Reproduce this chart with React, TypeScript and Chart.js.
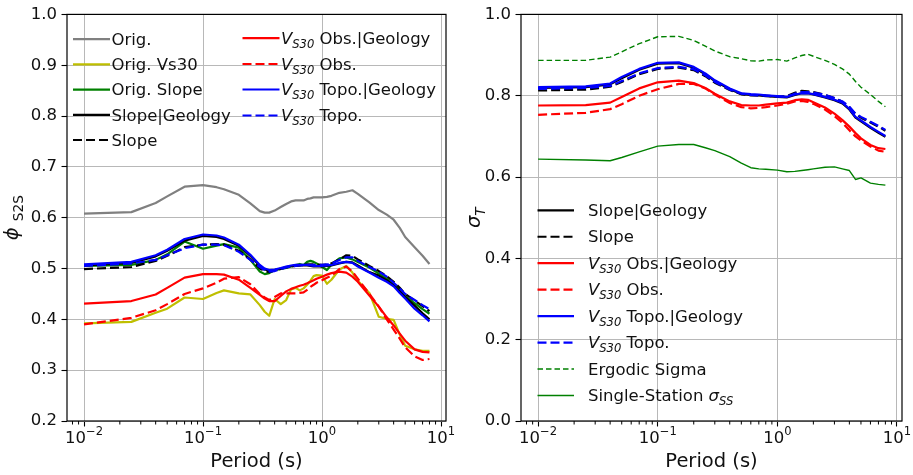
import React, { useEffect, useRef } from "react";
import { Chart, registerables } from "chart.js";

Chart.register(...registerables);

const FONT = "'DejaVu Sans', 'Liberation Sans', sans-serif";

// ---------- Left panel: phi_S2S ----------
const periodsPhi = [
  0.01, 0.025, 0.04, 0.05, 0.07,
  0.1, 0.13, 0.15, 0.2, 0.25,
  0.3, 0.33, 0.36, 0.4, 0.45,
  0.5, 0.55, 0.6, 0.65, 0.7,
  0.75, 0.8, 0.85, 0.9, 1.0,
  1.1, 1.2, 1.4, 1.6, 1.8,
  2.0, 2.5, 3.0, 3.5, 4.0,
  4.5, 5.0, 6.0, 7.0, 8.0,
];
const phiOrig = [
  0.608, 0.611, 0.629, 0.642, 0.661,
  0.664, 0.660, 0.656, 0.645, 0.628,
  0.613, 0.610, 0.610, 0.614, 0.621,
  0.627, 0.632, 0.634, 0.634, 0.634,
  0.637, 0.638, 0.640, 0.640, 0.640,
  0.641, 0.643, 0.649, 0.651, 0.654,
  0.647, 0.630, 0.615, 0.606, 0.596,
  0.580, 0.562, 0.542, 0.525, 0.509,
];
const phiOrigVs30 = [
  0.392, 0.395, 0.413, 0.421, 0.443,
  0.440, 0.452, 0.457, 0.451, 0.449,
  0.428, 0.415, 0.407, 0.440, 0.430,
  0.438, 0.459, 0.462, 0.457, 0.461,
  0.468, 0.476, 0.485, 0.487, 0.486,
  0.470, 0.478, 0.498, 0.505, 0.492,
  0.476, 0.452, 0.405, 0.401, 0.399,
  0.370, 0.348, 0.341, 0.338, 0.338,
];
const phiOrigSlope = [
  0.505, 0.507, 0.517, 0.528, 0.553,
  0.539, 0.545, 0.548, 0.541, 0.517,
  0.494, 0.489, 0.491, 0.497, 0.499,
  0.501, 0.504, 0.507, 0.509, 0.507,
  0.513, 0.515, 0.513, 0.510, 0.503,
  0.497, 0.508, 0.520, 0.522, 0.518,
  0.513, 0.502, 0.490, 0.480, 0.470,
  0.458, 0.445, 0.432, 0.420, 0.411,
];
const phiSlopeGeo = [
  0.506, 0.511, 0.524, 0.535, 0.555,
  0.564, 0.562, 0.558, 0.545, 0.525,
  0.505, 0.498, 0.496, 0.497, 0.500,
  0.503, 0.505, 0.506, 0.506, 0.506,
  0.506, 0.505, 0.504, 0.504, 0.504,
  0.505, 0.506, 0.510, 0.513, 0.512,
  0.506, 0.493, 0.486, 0.477, 0.467,
  0.455, 0.444, 0.427, 0.412, 0.400,
];
const phiSlope = [
  0.499, 0.503, 0.515, 0.525, 0.542,
  0.547, 0.548, 0.547, 0.535, 0.518,
  0.500, 0.495, 0.493, 0.496, 0.499,
  0.502, 0.504, 0.505, 0.506, 0.507,
  0.508, 0.508, 0.508, 0.508, 0.507,
  0.508, 0.510, 0.518, 0.526, 0.525,
  0.518, 0.505, 0.495, 0.485, 0.474,
  0.462, 0.450, 0.437, 0.426, 0.416,
];
const phiObsGeo = [
  0.431, 0.436, 0.449, 0.462, 0.482,
  0.489, 0.489, 0.488, 0.478, 0.462,
  0.448, 0.441, 0.436, 0.436, 0.446,
  0.455, 0.460, 0.463, 0.466, 0.468,
  0.471, 0.474, 0.477, 0.480, 0.484,
  0.488, 0.491, 0.494, 0.492, 0.484,
  0.474, 0.447, 0.425, 0.404, 0.388,
  0.372, 0.358, 0.341, 0.336, 0.335,
];
const phiObs = [
  0.390, 0.403, 0.418, 0.430, 0.450,
  0.461, 0.472, 0.480, 0.483, 0.469,
  0.450, 0.443, 0.438, 0.444, 0.451,
  0.451, 0.451, 0.451, 0.452, 0.453,
  0.458, 0.464, 0.468, 0.472, 0.477,
  0.482, 0.486, 0.499, 0.504, 0.494,
  0.480, 0.450, 0.425, 0.400, 0.380,
  0.362, 0.345, 0.327, 0.320, 0.322,
];
const phiTopoGeo = [
  0.508, 0.513, 0.526, 0.537, 0.558,
  0.567, 0.565, 0.561, 0.547, 0.527,
  0.507, 0.500, 0.497, 0.498, 0.501,
  0.504, 0.506, 0.507, 0.507, 0.507,
  0.507, 0.506, 0.505, 0.505, 0.505,
  0.506, 0.507, 0.511, 0.513, 0.511,
  0.504, 0.492, 0.482, 0.474, 0.465,
  0.452, 0.441, 0.421, 0.408, 0.396,
];
const phiTopo = [
  0.505, 0.510, 0.517, 0.526, 0.540,
  0.547, 0.547, 0.546, 0.533, 0.517,
  0.503, 0.497, 0.494, 0.495, 0.499,
  0.502, 0.504, 0.505, 0.506, 0.506,
  0.507, 0.507, 0.507, 0.507, 0.507,
  0.508, 0.510, 0.517, 0.522, 0.522,
  0.515, 0.503, 0.494, 0.484, 0.472,
  0.461, 0.450, 0.438, 0.428, 0.420,
];

// ---------- Right panel: sigma_T ----------
const periodsSig = [
  0.01, 0.025, 0.04, 0.05, 0.07,
  0.1, 0.15, 0.2, 0.25, 0.3,
  0.4, 0.5, 0.6, 0.7, 0.8,
  1.0, 1.2, 1.4, 1.6, 1.8,
  2.0, 2.5, 3.0, 3.5, 4.0,
  4.5, 5.0, 6.0, 7.0, 8.0,
];
const sigSlopeGeo = [
  0.819, 0.821, 0.828, 0.843, 0.864,
  0.879, 0.880, 0.869, 0.853, 0.836,
  0.816, 0.804, 0.802, 0.801, 0.799,
  0.797, 0.796, 0.802, 0.806, 0.806,
  0.803, 0.796, 0.789, 0.781, 0.766,
  0.746, 0.737, 0.721, 0.709, 0.699,
];
const sigSlope = [
  0.813, 0.815, 0.822, 0.834, 0.853,
  0.866, 0.869, 0.863, 0.848, 0.832,
  0.814, 0.804, 0.801, 0.801, 0.800,
  0.798, 0.799, 0.807, 0.812, 0.811,
  0.809, 0.802, 0.794, 0.785, 0.772,
  0.755, 0.746, 0.734, 0.724, 0.714,
];
const sigObsGeo = [
  0.776, 0.777, 0.783, 0.797, 0.818,
  0.833, 0.837, 0.831, 0.819, 0.805,
  0.786, 0.777, 0.776, 0.776, 0.778,
  0.781, 0.783, 0.789, 0.791, 0.790,
  0.784, 0.771, 0.756, 0.740, 0.724,
  0.708, 0.695, 0.679, 0.671, 0.669,
];
const sigObs = [
  0.753, 0.758, 0.767, 0.779, 0.800,
  0.816, 0.829, 0.829, 0.818, 0.803,
  0.782, 0.772, 0.769, 0.770, 0.772,
  0.776, 0.780, 0.786, 0.787, 0.785,
  0.780, 0.766, 0.750, 0.733, 0.715,
  0.700, 0.690, 0.675, 0.665, 0.662,
];
const sigTopoGeo = [
  0.821, 0.823, 0.830, 0.846, 0.866,
  0.881, 0.882, 0.871, 0.855, 0.838,
  0.818, 0.806, 0.804, 0.803, 0.801,
  0.799, 0.797, 0.803, 0.806, 0.806,
  0.804, 0.797, 0.790, 0.783, 0.768,
  0.748, 0.739, 0.723, 0.711, 0.701,
];
const sigTopo = [
  0.817, 0.819, 0.824, 0.836, 0.855,
  0.868, 0.871, 0.865, 0.850, 0.834,
  0.815, 0.805, 0.802, 0.801, 0.800,
  0.798, 0.798, 0.805, 0.809, 0.809,
  0.808, 0.802, 0.794, 0.786, 0.773,
  0.756, 0.748, 0.736, 0.726, 0.716,
];
const sigErgodic = [
  0.887, 0.887, 0.895, 0.908, 0.928,
  0.945, 0.946, 0.936, 0.922, 0.910,
  0.896, 0.891, 0.886, 0.885, 0.888,
  0.889, 0.885, 0.893, 0.899, 0.902,
  0.897, 0.887, 0.877, 0.866, 0.853,
  0.835, 0.821, 0.803, 0.786, 0.773,
];
const sigSingleStation = [
  0.644, 0.642, 0.640, 0.648, 0.662,
  0.676, 0.680, 0.680, 0.672, 0.665,
  0.650, 0.634, 0.623, 0.620, 0.619,
  0.617, 0.613, 0.614, 0.616, 0.618,
  0.620, 0.624, 0.625, 0.620, 0.616,
  0.594, 0.598, 0.585, 0.582, 0.580,
];

const decadeTicks = [0.01, 0.1, 1, 10];
const phiTicks = [0.2, 0.3, 0.4, 0.5, 0.6, 0.7, 0.8, 0.9, 1.0];
const sigTicks = [0.0, 0.2, 0.4, 0.6, 0.8, 1.0];

// ---------- helpers ----------
type Seg = { t: string; it?: boolean; sub?: boolean; sup?: boolean };

const segFont = (s: Seg, size: number) =>
  `${s.it ? "italic " : ""}${s.sub || s.sup ? size * 0.7 : size}px ${FONT}`;

function richWidth(ctx: CanvasRenderingContext2D, segs: Seg[], size: number) {
  let w = 0;
  for (const s of segs) {
    ctx.font = segFont(s, size);
    w += ctx.measureText(s.t).width;
  }
  return w;
}
function drawRich(ctx: CanvasRenderingContext2D, segs: Seg[], x: number, y: number, size: number) {
  let cx = x;
  for (const s of segs) {
    ctx.font = segFont(s, size);
    const dy = s.sub ? size * 0.24 : s.sup ? -size * 0.45 : 0;
    ctx.fillText(s.t, cx, y + dy);
    cx += ctx.measureText(s.t).width;
  }
}

const VS30: Seg[] = [{ t: "V", it: true }, { t: "S30", it: true, sub: true }];

type LegItem = { label: Seg[]; color: string; width: number; dash: number[] };
type LegCol = { x1: number; x2: number; tx: number; rows: number[]; items: LegItem[] };

const C = { gray: "#808080", yel: "#bfbf00", grn: "#008000", k: "#000000", r: "#ff0000", b: "#0000ff" };
const DASH = [9, 4];
const TDASH = [5.5, 3];
const LW = 2.2;

function ds(label: string, xs: number[], ys: number[], color: string, width: number, dash: number[], order: number) {
  return {
    label,
    data: xs.map((x, i) => ({ x, y: ys[i] })),
    borderColor: color,
    backgroundColor: color,
    borderWidth: width,
    borderDash: dash,
    borderJoinStyle: "round" as const,
    borderCapStyle: "butt" as const,
    pointRadius: 0,
    fill: false,
    tension: 0,
    order,
  };
}

const decoPlugin = {
  id: "deco",
  afterDraw(chart: any, _args: any, opts: any) {
    const ctx: CanvasRenderingContext2D = chart.ctx;
    const a = chart.chartArea;
    const xs = chart.scales.x;
    ctx.save();
    // minor ticks
    ctx.strokeStyle = "#000";
    ctx.lineWidth = 1;
    for (let d = -3; d <= 1; d++) {
      for (let k = 2; k <= 9; k++) {
        const v = k * Math.pow(10, d);
        if (v < xs.min || v > xs.max) continue;
        const px = xs.getPixelForValue(v);
        ctx.beginPath();
        ctx.moveTo(px, a.bottom);
        ctx.lineTo(px, a.bottom + 3.5);
        ctx.stroke();
      }
    }
    // frame
    ctx.lineWidth = 1.2;
    ctx.strokeRect(a.left, a.top, a.right - a.left, a.bottom - a.top);
    // x tick labels
    ctx.fillStyle = "#111";
    ctx.textBaseline = "alphabetic";
    for (const v of decadeTicks) {
      const e = Math.round(Math.log10(v));
      const segs: Seg[] = [{ t: "10" }, { t: e < 0 ? "\u2212" + Math.abs(e) : String(e), sup: true }];
      const w = richWidth(ctx, segs, 16.5);
      const px = xs.getPixelForValue(v);
      drawRich(ctx, segs, px - w / 2, a.bottom + 21.7, 16.5);
    }
    // x title
    const xt: Seg[] = [{ t: "Period (s)" }];
    const xw = richWidth(ctx, xt, 19.5);
    drawRich(ctx, xt, (a.left + a.right) / 2 - xw / 2, 466.5, 19.5);
    // y title
    ctx.save();
    ctx.translate(opts.yTitleX, (a.top + a.bottom) / 2);
    ctx.rotate(-Math.PI / 2);
    const yw = richWidth(ctx, opts.yTitle, 19.5);
    drawRich(ctx, opts.yTitle, -yw / 2, 0, 19.5);
    ctx.restore();
    // legend
    for (const col of opts.legend as LegCol[]) {
      col.items.forEach((it, i) => {
        const y = col.rows[i];
        ctx.save();
        ctx.strokeStyle = it.color;
        ctx.lineWidth = it.width;
        ctx.setLineDash(it.dash);
        ctx.lineCap = "butt";
        ctx.beginPath();
        ctx.moveTo(col.x1, y);
        ctx.lineTo(col.x2, y);
        ctx.stroke();
        ctx.restore();
        ctx.fillStyle = "#111";
        drawRich(ctx, it.label, col.tx, y + 5.7, 16.5);
      });
    }
    ctx.restore();
  },
};

function makeConfig(p: {
  datasets: any[];
  yMin: number;
  yMax: number;
  yTicks: number[];
  yWidth: number;
  padRight: number;
  yTitle: Seg[];
  yTitleX: number;
  legend: LegCol[];
}) {
  const gridBase = {
    color: "#b8b8b8",
    lineWidth: 1,
    drawTicks: true,
    tickLength: 5.5,
    tickColor: "#000",
    tickWidth: 1.1,
  };
  return {
    type: "line" as const,
    data: { datasets: p.datasets },
    plugins: [decoPlugin],
    options: {
      responsive: false,
      animation: false as const,
      events: [],
      layout: { padding: { left: 0, right: p.padRight, top: 14, bottom: 0 } },
      plugins: {
        legend: { display: false },
        tooltip: { enabled: false },
        deco: { yTitle: p.yTitle, yTitleX: p.yTitleX, legend: p.legend },
      },
      scales: {
        x: {
          type: "logarithmic" as const,
          bounds: "data" as const,
          min: Math.pow(10, -2.143),
          max: Math.pow(10, 1.042),
          afterBuildTicks: (s: any) => {
            s.ticks = decadeTicks.map((v) => ({ value: v }));
          },
          afterFit: (s: any) => {
            s.height = 54;
          },
          ticks: { display: false },
          grid: gridBase,
          border: { display: false },
        },
        y: {
          type: "linear" as const,
          min: p.yMin,
          max: p.yMax,
          afterBuildTicks: (s: any) => {
            s.ticks = p.yTicks.map((v) => ({ value: v }));
          },
          afterFit: (s: any) => {
            s.width = p.yWidth;
          },
          ticks: {
            callback: (v: any) => Number(v).toFixed(1),
            font: { family: FONT, size: 16.5 },
            color: "#111",
            padding: 4.5,
          },
          grid: gridBase,
          border: { display: false },
        },
      },
    },
  };
}

function leftConfig() {
  const defs: [string, number[], string, number, number[]][] = [
    ["Orig.", phiOrig, C.gray, LW, []],
    ["Orig. Vs30", phiOrigVs30, C.yel, LW, []],
    ["Orig. Slope", phiOrigSlope, C.grn, LW, []],
    ["Slope|Geology", phiSlopeGeo, C.k, LW, []],
    ["Slope", phiSlope, C.k, LW, DASH],
    ["VS30 Obs.|Geology", phiObsGeo, C.r, LW, []],
    ["VS30 Obs.", phiObs, C.r, LW, DASH],
    ["VS30 Topo.|Geology", phiTopoGeo, C.b, LW, []],
    ["VS30 Topo.", phiTopo, C.b, LW, DASH],
  ];
  const n = defs.length;
  const datasets = defs.map((d, i) => ds(d[0], periodsPhi, d[1], d[2], d[3], d[4], n - i));
  const item = (label: Seg[], i: number): LegItem => ({ label, color: defs[i][2], width: defs[i][3], dash: defs[i][4] });
  const legend: LegCol[] = [
    {
      x1: 73, x2: 110, tx: 111.5,
      rows: [39.2, 64.4, 89.6, 114.8, 140],
      items: [
        item([{ t: "Orig." }], 0),
        item([{ t: "Orig. Vs30" }], 1),
        item([{ t: "Orig. Slope" }], 2),
        item([{ t: "Slope|Geology" }], 3),
        item([{ t: "Slope" }], 4),
      ],
    },
    {
      x1: 242.5, x2: 279.5, tx: 281,
      rows: [38.2, 64, 89.5, 115.5],
      items: [
        item([...VS30, { t: " Obs.|Geology" }], 5),
        item([...VS30, { t: " Obs." }], 6),
        item([...VS30, { t: " Topo.|Geology" }], 7),
        item([...VS30, { t: " Topo." }], 8),
      ],
    },
  ];
  return makeConfig({
    datasets,
    yMin: 0.2,
    yMax: 1.0,
    yTicks: phiTicks,
    yWidth: 67,
    padRight: 14,
    yTitle: [{ t: "\u03D5", it: true }, { t: " " }, { t: "S2S", sub: true }],
    yTitleX: 18,
    legend,
  });
}

function rightConfig() {
  const defs: [string, number[], string, number, number[], Seg[]][] = [
    ["Slope|Geology", sigSlopeGeo, C.k, LW, [], [{ t: "Slope|Geology" }]],
    ["Slope", sigSlope, C.k, LW, DASH, [{ t: "Slope" }]],
    ["VS30 Obs.|Geology", sigObsGeo, C.r, LW, [], [...VS30, { t: " Obs.|Geology" }]],
    ["VS30 Obs.", sigObs, C.r, LW, DASH, [...VS30, { t: " Obs." }]],
    ["VS30 Topo.|Geology", sigTopoGeo, C.b, LW, [], [...VS30, { t: " Topo.|Geology" }]],
    ["VS30 Topo.", sigTopo, C.b, LW, DASH, [...VS30, { t: " Topo." }]],
    ["Ergodic Sigma", sigErgodic, C.grn, 1.4, TDASH, [{ t: "Ergodic Sigma" }]],
    ["Single-Station", sigSingleStation, C.grn, 1.4, [], [{ t: "Single-Station " }, { t: "\u03C3", it: true }, { t: "SS", it: true, sub: true }]],
  ];
  const n = defs.length;
  const datasets = defs.map((d, i) => ds(d[0], periodsSig, d[1], d[2], d[3], d[4], n - i));
  const legend: LegCol[] = [
    {
      x1: 77.5, x2: 114, tx: 128,
      rows: defs.map((_, i) => 210.3 + 26.45 * i),
      items: defs.map((d) => ({ label: d[5], color: d[2], width: d[3], dash: d[4] })),
    },
  ];
  return makeConfig({
    datasets,
    yMin: 0,
    yMax: 1.0,
    yTicks: sigTicks,
    yWidth: 61,
    padRight: 11,
    yTitle: [{ t: "\u03C3", it: true }, { t: "T", it: true, sub: true }],
    yTitleX: 20,
    legend,
  });
}

function Panel({ left, width, make }: { left: number; width: number; make: () => any }) {
  const ref = useRef<HTMLCanvasElement>(null);
  useEffect(() => {
    const chart = new Chart(ref.current as HTMLCanvasElement, make());
    return () => chart.destroy();
  }, []);
  return (
    <canvas
      ref={ref}
      width={width}
      height={475}
      style={{ position: "absolute", left, top: 0, width, height: 475 }}
    />
  );
}

export default function App() {
  return (
    <div style={{ position: "absolute", left: 0, top: 0, width: 913, height: 475, background: "#fff", overflow: "hidden" }}>
      <Panel left={0} width={460} make={leftConfig} />
      <Panel left={460} width={453} make={rightConfig} />
    </div>
  );
}
